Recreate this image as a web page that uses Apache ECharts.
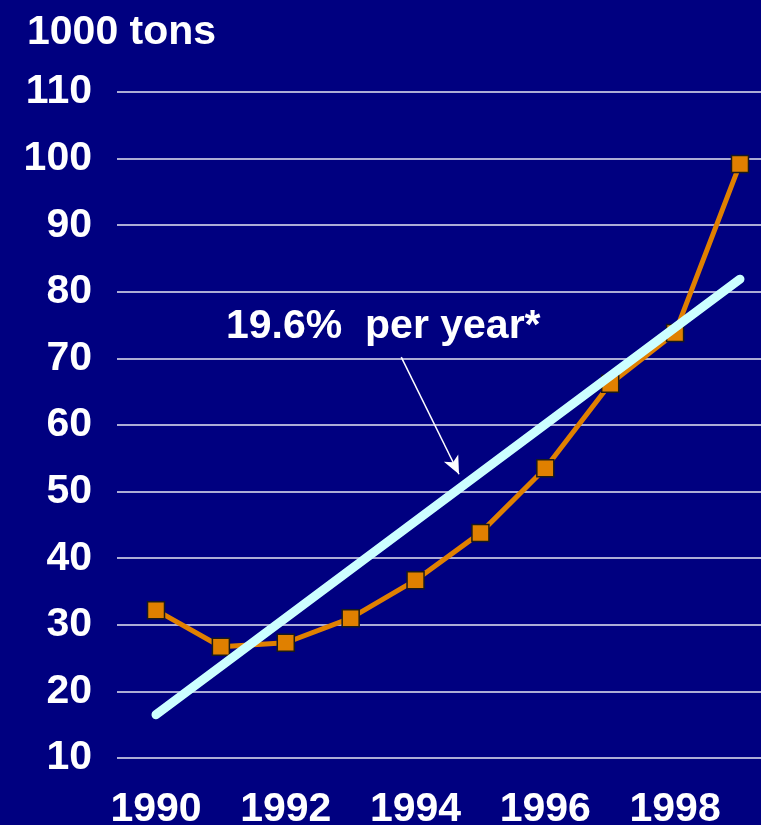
<!DOCTYPE html>
<html>
<head>
<meta charset="utf-8">
<script src="https://cdn.jsdelivr.net/npm/echarts@6/dist/echarts.min.js"></script>
<style>
  html, body { margin: 0; padding: 0; background: #000080; }
  #main { width: 761px; height: 825px; }
</style>
</head>
<body>
<div id="main"></div>
<script>
(function() {
  // data
  var years = [1990, 1991, 1992, 1993, 1994, 1995, 1996, 1997, 1998, 1999];
  var tons = [32.2, 26.7, 27.3, 31.0, 36.7, 43.8, 53.5, 66.2, 73.8, 99.2];
  var trendYears = [1990, 1999];
  var trendValues = [16.5, 81.9];
  var yearLabels = [1990, 1992, 1994, 1996, 1998];
  var arrowFrom = [1993.78, 70.2];
  var arrowTo = [1994.67, 52.6];

  var font = 'Arial, "Liberation Sans", sans-serif';
  var myChart = echarts.init(document.getElementById('main'));

  var option = {
    backgroundColor: '#000080',
    animation: false,
    title: {
      text: '1000 tons',
      left: 22,
      top: 7,
      textStyle: { color: '#fff', fontSize: 41, fontWeight: 'bold', fontFamily: font }
    },
    grid: { left: 117, right: 0, top: 92, bottom: 67, outerBoundsMode: 'none', containLabel: false },
    xAxis: {
      type: 'value',
      min: 1989.399,
      max: 1999.324,
      splitLine: { show: false },
      axisLine: { show: false },
      axisTick: { show: false },
      axisLabel: {
        customValues: yearLabels,
        formatter: function(v) { return String(v); },
        color: '#fff',
        fontSize: 41,
        fontWeight: 'bold',
        fontFamily: font,
        margin: 31
      }
    },
    yAxis: {
      type: 'value',
      min: 10,
      max: 110,
      interval: 10,
      axisLine: { show: false },
      axisTick: { show: false },
      splitLine: { lineStyle: { color: '#e6e6f2', width: 1.5 } },
      axisLabel: {
        color: '#fff',
        fontSize: 41,
        fontWeight: 'bold',
        fontFamily: font,
        margin: 25
      }
    },
    graphic: [{
      type: 'text',
      style: {
        text: '19.6%  per year*',
        x: 226,
        y: 327,
        verticalAlign: 'middle',
        fill: '#fff',
        font: 'bold 41px ' + font
      }
    }],
    series: [
      {
        type: 'line',
        data: years.map(function(y, i) { return [y, tons[i]]; }),
        symbol: 'rect',
        symbolSize: 17,
        lineStyle: { color: '#e08000', width: 5 },
        itemStyle: { color: '#e08000', borderColor: '#1a1a1a', borderWidth: 1.5 },
        z: 2
      },
      {
        type: 'line',
        data: trendYears.map(function(y, i) { return [y, trendValues[i]]; }),
        symbol: 'none',
        lineStyle: { color: '#ccffff', width: 9, cap: 'round' },
        z: 3,
        markLine: {
          silent: true,
          symbol: ['none', 'arrow'],
          symbolSize: [12, 18],
          label: { show: false },
          lineStyle: { color: '#fff', width: 1.5, type: 'solid' },
          data: [[{ coord: arrowFrom }, { coord: arrowTo }]]
        }
      }
    ]
  };

  myChart.setOption(option);
  window.addEventListener('resize', function() {
    myChart.resize();
  });
})();
</script>
</body>
</html>
